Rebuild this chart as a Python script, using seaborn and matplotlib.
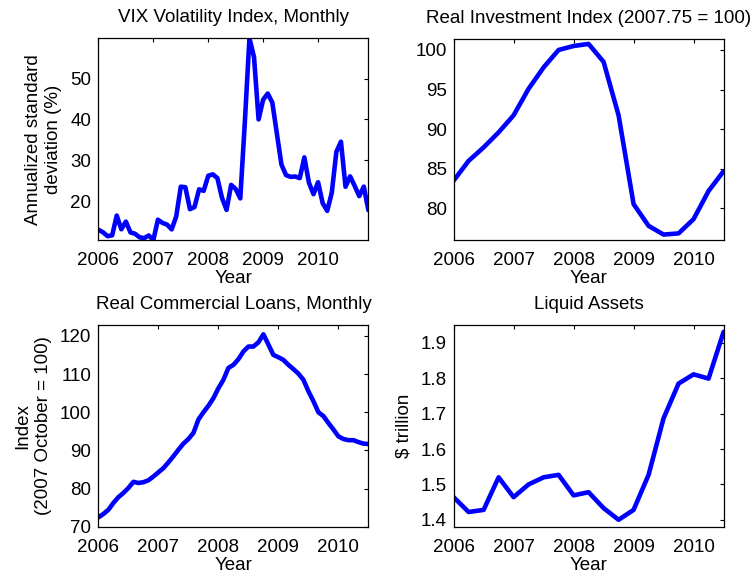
import numpy as np
import pandas as pd
import matplotlib
matplotlib.use("Agg")
import matplotlib.pyplot as plt
import seaborn as sns

# ---------------- data ----------------
vix_start = 2006.0
vix_values = [12.95, 12.34, 11.39, 11.59, 16.44, 13.08, 14.95, 12.31, 11.98, 11.10, 10.91, 11.56,
              10.42, 15.42, 14.64, 14.22, 13.05, 16.23, 23.52, 23.38, 18.00, 18.53, 22.87, 22.50,
              26.20, 26.54, 25.61, 20.79, 17.83, 23.95, 22.94, 20.65, 39.39, 59.89, 55.28, 40.00,
              44.84, 46.35, 44.14, 36.50, 28.92, 26.35, 25.92, 26.01, 25.61, 30.69, 24.51, 21.68,
              24.62, 19.50, 17.59, 22.05, 32.07, 34.54, 23.50, 26.05, 23.70, 21.20, 23.54, 17.75]

invest_start = 2006.0
invest_values = [83.5, 86.0, 87.7, 89.6, 91.75, 95.1, 97.8, 100.0, 100.5, 100.76,
                 98.5, 91.75, 80.55, 77.8, 76.7, 76.85, 78.65, 82.2, 84.7]

loans_start = 2006.0
loans_values = [72.5, 73.4, 74.5, 76.3, 77.8, 78.9, 80.2, 81.8, 81.5, 81.7, 82.2, 83.2,
                84.3, 85.4, 86.9, 88.5, 90.2, 91.8, 93.0, 94.6, 98.1, 100.0, 101.7, 103.7,
                106.3, 108.5, 111.6, 112.4, 113.9, 115.9, 117.2, 117.2, 118.3, 120.4, 117.7, 115.0,
                114.4, 113.7, 112.4, 111.3, 110.1, 108.5, 105.5, 102.9, 100.0, 99.0, 97.2, 95.5,
                93.7, 93.0, 92.7, 92.7, 92.2, 91.8, 91.7]

liquid_start = 2006.0
liquid_values = [1.464, 1.422, 1.428, 1.520, 1.464, 1.500, 1.520, 1.527, 1.469, 1.478,
                 1.433, 1.400, 1.428, 1.527, 1.687, 1.785, 1.811, 1.799, 1.931]

titles = ["VIX Volatility Index, Monthly", "Real Investment Index (2007.75 = 100)",
          "Real Commercial Loans, Monthly", "Liquid Assets"]
ylabels = ["Annualized standard\ndeviation (%)", "", "Index\n(2007 October = 100)", "\\$ trillion"]
xticks = [2006, 2007, 2008, 2009, 2010]
yticks = [[20, 30, 40, 50], [80, 85, 90, 95, 100], [70, 80, 90, 100, 110, 120],
          [1.4, 1.5, 1.6, 1.7, 1.8, 1.9]]
ytick_labels = [["20", "30", "40", "50"], ["80", "85", "90", "95", "100"],
                ["70", "80", "90", "100", "110", "120"],
                ["1.4", "1.5", "1.6", "1.7", "1.8", "1.9"]]

# ---------------- style ----------------
sns.set_style("white")
plt.rcParams.update({
    "font.family": ["Liberation Sans", "DejaVu Sans"],
    "font.size": 13.5,
    "xtick.direction": "in",
    "ytick.direction": "in",
    "xtick.top": True,
    "ytick.right": True,
    "xtick.major.size": 3,
    "ytick.major.size": 3,
    "xtick.major.width": 0.8,
    "ytick.major.width": 0.8,
    "axes.linewidth": 0.9,
    "axes.edgecolor": "black",
    "xtick.color": "black",
    "ytick.color": "black",
    "text.color": "black",
    "axes.labelcolor": "black",
})

def series_df(start, values, step):
    x = start + np.arange(len(values)) * step
    return pd.DataFrame({"Year": x, "Value": values})

dfs = [series_df(vix_start, vix_values, 1 / 12),
       series_df(invest_start, invest_values, 0.25),
       series_df(loans_start, loans_values, 1 / 12),
       series_df(liquid_start, liquid_values, 0.25)]

ylims = [(min(vix_values), max(vix_values)), (76.0, 101.4), (70, 122.9), (1.379, 1.951)]

fig = plt.figure(figsize=(7.56, 5.80), dpi=100)
positions = [[0.1302, 0.586, 0.3571, 0.348],
             [0.6000, 0.586, 0.3571, 0.347],
             [0.1302, 0.0915, 0.3571, 0.3486],
             [0.6000, 0.0910, 0.3571, 0.3490]]

for i, df in enumerate(dfs):
    ax = fig.add_axes(positions[i])
    sns.lineplot(data=df, x="Year", y="Value", ax=ax, color=(0, 0, 1), linewidth=3.3,
                 estimator=None, sort=True)
    ax.set_xlim(df["Year"].min(), df["Year"].max())
    ax.set_ylim(*ylims[i])
    ax.set_xticks(xticks)
    ax.set_xticklabels([str(t) for t in xticks])
    ax.set_yticks(yticks[i])
    ax.set_yticklabels(ytick_labels[i])
    ax.set_title(titles[i], fontsize=13.5, pad=11.5)
    ax.set_xlabel("Year", fontsize=13.5, labelpad=1)
    ax.set_ylabel(ylabels[i], fontsize=13.5, labelpad=6, linespacing=1.25)
    ax.tick_params(labelsize=13.5)
    ax.tick_params(axis="x", pad=8.5)
    ax.tick_params(axis="y", pad=5)
    for s in ax.spines.values():
        s.set_visible(True)
        s.set_color("black")

fig.savefig("out.png", dpi=100)
